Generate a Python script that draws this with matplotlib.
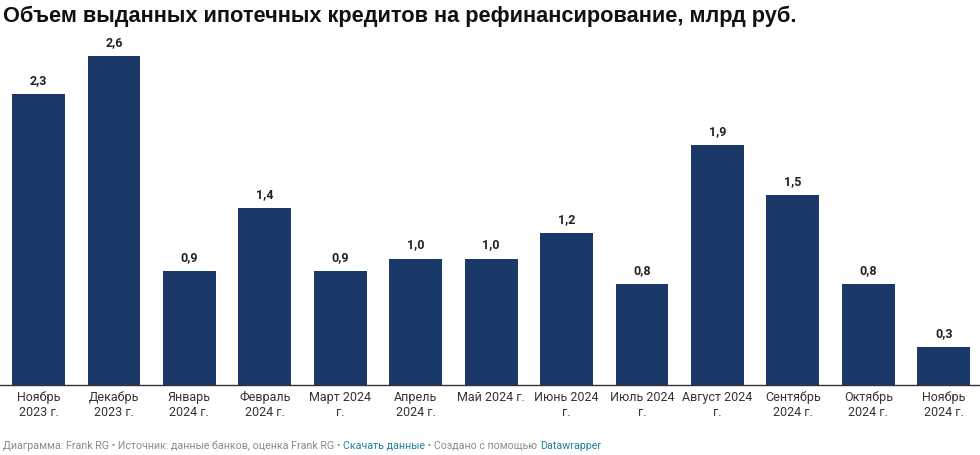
import matplotlib
matplotlib.use("Agg")
import matplotlib.pyplot as plt

categories = ["Ноябрь\n2023 г.", "Декабрь\n2023 г.", "Январь\n2024 г.", "Февраль\n2024 г.",
              "Март 2024\nг.", "Апрель\n2024 г.", "Май 2024 г.", "Июнь 2024\nг.",
              "Июль 2024\nг.", "Август 2024\nг.", "Сентябрь\n2024 г.", "Октябрь\n2024 г.",
              "Ноябрь\n2024 г."]
values = [2.3, 2.6, 0.9, 1.4, 0.9, 1.0, 1.0, 1.2, 0.8, 1.9, 1.5, 0.8, 0.3]
title = "Объем выданных ипотечных кредитов на рефинансирование, млрд руб."
footer_parts = [("Диаграмма: Frank RG • Источник: данные банков, оценка Frank RG • ", "#8a8a8a"),
                ("Скачать данные", "#1d81a2"),
                (" • Создано с помощью ", "#8a8a8a"),
                ("Datawrapper", "#1d81a2")]

W, H = 980, 455
fig = plt.figure(figsize=(W / 100, H / 100), dpi=100)
fig.patch.set_facecolor("white")

base_px = 385
ymax = 3.0
px_per_unit = 126.5
ax = fig.add_axes([0, (H - base_px) / H, 1, ymax * px_per_unit / H])
x = list(range(len(values)))
bars = ax.bar(x, values, width=0.70, color="#1a3868", zorder=2)
ax.set_xlim(-0.51, len(values) - 0.52)
ax.set_ylim(0, ymax)
for s in ["top", "left", "right"]:
    ax.spines[s].set_visible(False)
ax.spines["bottom"].set_color("#333333")
ax.spines["bottom"].set_linewidth(1.0)
ax.set_yticks([])
ax.set_xticks(x)
ax.set_xticklabels(categories, fontsize=9, family="Roboto", color="#333333", linespacing=1.25)
ax.tick_params(axis="x", length=0, pad=4)

for xi, v in zip(x, values):
    ax.annotate(f"{v:.1f}".replace(".", ","), (xi, v), xytext=(0, 5), textcoords="offset points",
                ha="center", va="bottom", fontsize=9, fontweight="bold", family="Roboto", color="#222222")

fig.text(3 / W, 1 - 22 / H, title, fontsize=15.7, fontweight="bold", family="Liberation Sans",
         color="#111111", ha="left", va="baseline")

fig.canvas.draw()
renderer = fig.canvas.get_renderer()
xpos = 3 / W
for txt, col in footer_parts:
    t = fig.text(xpos, 1 - 449 / H, txt, fontsize=7.65, family="Roboto", color=col, ha="left", va="baseline")
    bb = t.get_window_extent(renderer=renderer)
    xpos += bb.width / W

fig.savefig("out.png", dpi=100, facecolor="white")
